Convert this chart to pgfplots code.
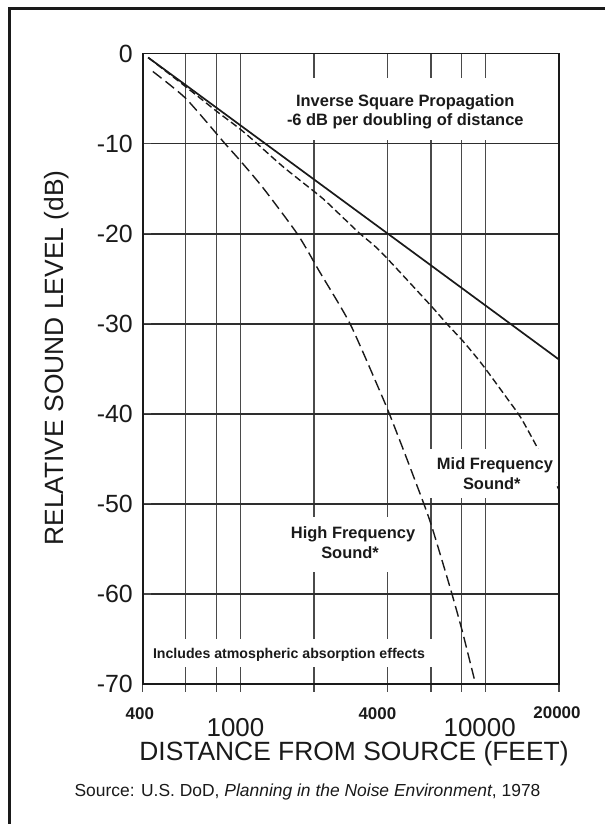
\documentclass[border=0pt]{standalone}
\usepackage{pgfplots}
\pgfplotsset{compat=1.18}
\usepackage{fontspec}
\setmainfont{Liberation Sans}
\setsansfont{Liberation Sans}

\definecolor{ink}{HTML}{1A1A1A}
\definecolor{gridv}{HTML}{4A4A4A}
\definecolor{gridh}{HTML}{2E2E2E}

\newcommand{\fs}[1]{\fontsize{#1}{#1}\selectfont}

\begin{document}
\begin{tikzpicture}[x=1bp,y=1bp]
\path[use as bounding box] (0,0) rectangle (605,824);
\fill[white] (0,0) rectangle (605,824);
% scanned page frame (left and top only)
\draw[ink, line width=3bp] (9,0) -- (9,815) -- (605,815);

\begin{axis}[
  at={(142.7bp,140bp)}, anchor=south west,
  scale only axis, width=416.3bp, height=630.5bp,
  xmode=log,
  xmin=400, xmax=20000, ymin=-70, ymax=0,
  axis line style={ink, line width=1.6bp},
  xtick={400,1000,4000,10000,20000},
  minor xtick={600,800,2000,6000,8000},
  xticklabels={,,,,},
  ytick={-70,-60,-50,-40,-30,-20,-10,0},
  yticklabels={-70,-60,-50,-40,-30,-20,-10,0},
  yticklabel style={font=\fs{25}, text=ink, inner sep=0pt, xshift=-9.7bp},
  tick pos=left,
  xtick align=outside, ytick align=inside,
  major tick length=8bp, minor tick length=8bp,
  tick style={gridv, line width=1.2bp},
  xmajorgrids, xminorgrids, ymajorgrids,
  x grid style={gridv, line width=1.2bp},
  y grid style={gridh, line width=1.8bp},
]
% inverse square propagation, -6 dB per doubling
\addplot[ink, line width=1.7bp] coordinates {
  (421,-0.45) (600,-3.52) (800,-6.02) (1000,-7.96) (2000,-13.98)
  (4000,-20.00) (6000,-23.52) (8000,-26.02) (10000,-27.96) (20000,-33.98)};
% mid frequency sound
\addplot[ink, line width=1.4bp, smooth, tension=0.4, dash pattern=on 7bp off 3.5bp] coordinates {
  (421,-0.45) (600,-3.7) (800,-6.4) (1000,-8.4) (1171,-10.0) (1500,-12.6)
  (2107,-15.8) (2338,-16.9) (3051,-19.9) (3743,-22.0) (6000,-28.0)
  (6912,-29.9) (8210,-32.1) (9763,-34.6) (12362,-38.4) (14015,-40.5)
  (16640,-44.2) (19800,-48.2) (20000,-48.5)};
% high frequency sound
\addplot[ink, line width=1.4bp, smooth, tension=0.4, dash pattern=on 11bp off 5bp] coordinates {
  (440,-2.0) (600,-5.0) (860,-9.9) (1000,-11.9) (1246,-15.0) (1717,-20.1)
  (2105,-24.2) (2806,-30.0) (3743,-37.7) (4115,-40.4) (4694,-44.4)
  (5633,-50.1) (6095,-52.8) (7241,-59.6) (8088,-64.3) (9125,-70.0)};

% white patches behind the notes
\fill[white] (axis cs:1432,-2.72) rectangle (axis cs:15684,-9.60);
\fill[white] (axis cs:5886,-43.91) rectangle (axis cs:19484,-49.35);
\fill[white] (axis cs:1544,-51.46) rectangle (axis cs:5459,-57.56);
\fill[white] (axis cs:420.3,-65.0) rectangle (axis cs:6346,-68.11);

\begin{scope}[every node/.style={anchor=base, inner sep=0pt, text=ink, font=\fs{16.5}\bfseries}]
\node at (axis cs:4716,-5.83) {Inverse Square Propagation};
\node at (axis cs:4716,-8.05) {-6 dB per doubling of distance};
\node at (axis cs:10958,-46.16) {Mid Frequency};
\node at (axis cs:10633,-48.39) {Sound*};
\node at (axis cs:2888,-53.82) {High Frequency};
\node at (axis cs:2806,-56.09) {Sound*};
\node[font=\fs{14.2}\bfseries] at (axis cs:1582,-67.15) {Includes atmospheric absorption effects};
\end{scope}
\end{axis}

% x tick labels, two sizes as in the original
\begin{scope}[every node/.style={anchor=base, inner sep=0pt, text=ink}]
\node[font=\fs{17}\bfseries] at (139.8,104) {400};
\node[font=\fs{26}] at (235.5,87.5) {1000};
\node[font=\fs{17}\bfseries] at (377.4,104) {4000};
\node[font=\fs{26}] at (479.7,87.5) {10000};
\node[font=\fs{17}\bfseries] at (557,105.5) {20000};
\node[font=\fs{26.5}] at (354,63) {DISTANCE FROM SOURCE (FEET)};
\node[font=\fs{26.5}, rotate=90] at (63,466) {RELATIVE SOUND LEVEL (dB)};
\node[font=\fs{17.5}] at (307.5,27) {Source: U.S. DoD, \textit{Planning in the Noise Environment}, 1978};
\end{scope}
\end{tikzpicture}
\end{document}
